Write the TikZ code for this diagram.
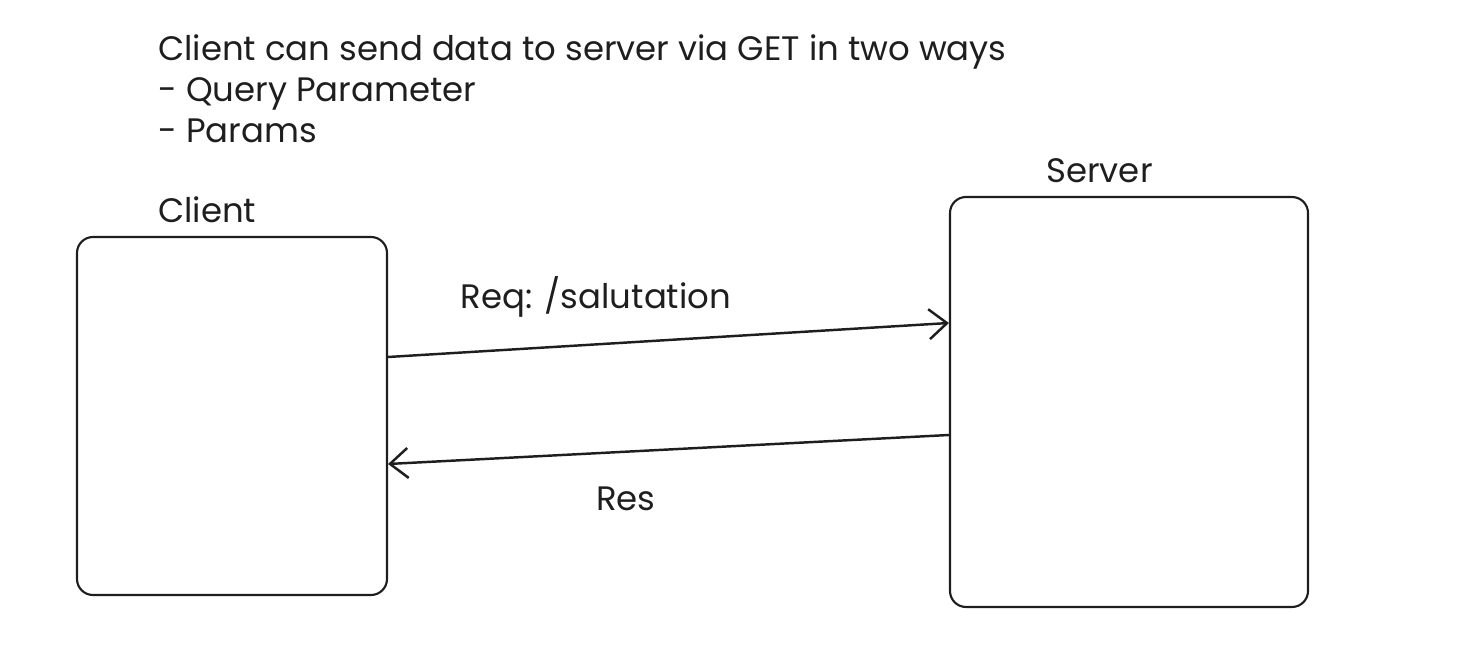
\documentclass[tikz,border=0pt]{standalone}
\usepackage{fontspec}
\setmainfont{Poppins}
\usepackage{tikz}
\usetikzlibrary{arrows.meta,calc,positioning}
\definecolor{ink}{HTML}{1E1E1E}

\begin{document}
\begin{tikzpicture}[
  box/.style={draw=ink, line width=1.2pt, rounded corners=0.32cm, inner sep=0pt},
  lbl/.style={text=ink, font=\fontsize{19.3}{23.3}\selectfont, inner sep=0pt},
  msg/.style={draw=ink, line width=1.4pt, -{Straight Barb[length=0.36cm, width=0.6cm, line width=1.4pt]}}
]
\useasboundingbox (0,0) rectangle (29.38,-13.26);
\node[lbl, anchor=west, align=left] (note) at (3.16,-1.78) {Client can send data to server via GET in two ways\\- Query Parameter\\- Params};
\node[box, minimum width=6.2cm, minimum height=7.16cm] (client) at (4.64,-8.32) {};
\node[box, minimum width=7.16cm, minimum height=8.2cm] (server) at (22.58,-8.04) {};
\node[lbl, anchor=west] (clientlbl) at (3.16,-4.2) {Client};
\node[lbl, anchor=west] (serverlbl) at (20.92,-3.42) {Server};
% request / response
\coordinate (reqa) at ($(client.east)+(0,1.18)$);
\coordinate (reqb) at ($(server.west)+(0,1.58)$);
\coordinate (resa) at ($(server.west)+(0,-0.66)$);
\coordinate (resb) at ($(client.east)+(0,-0.96)$);
\draw[msg] (reqa) -- (reqb);
\draw[msg] (resa) -- (resb);
\node[lbl] (reqlbl) at (11.92,-5.94) {Req: /salutation};
\node[lbl] (reslbl) at (12.52,-9.98) {Res};
\end{tikzpicture}
\end{document}
